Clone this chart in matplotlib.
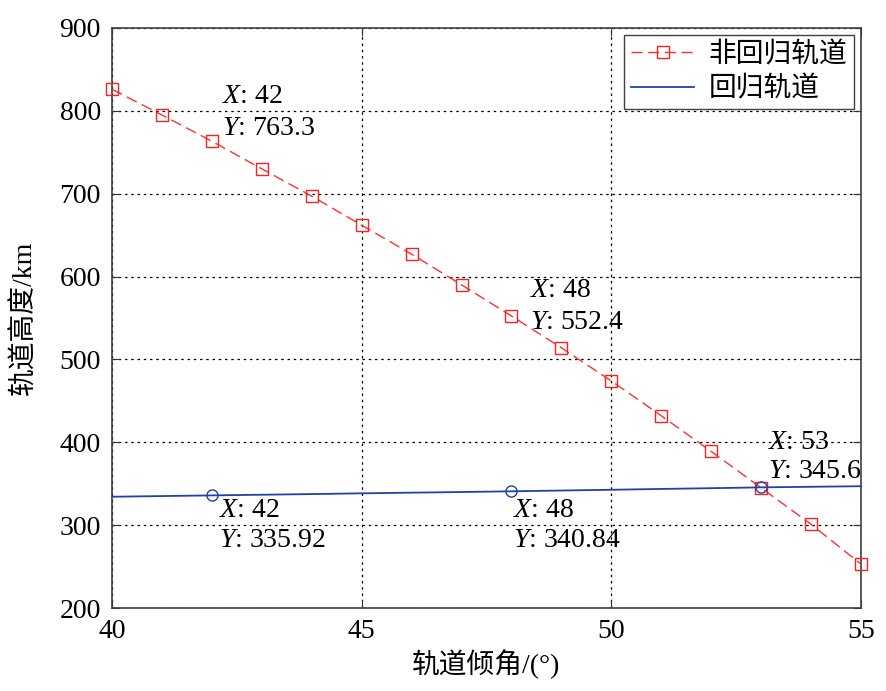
import matplotlib
matplotlib.use("Agg")
import matplotlib.pyplot as plt

plt.rcParams['font.family'] = ['Liberation Serif', 'Noto Sans CJK SC']
plt.rcParams['mathtext.fontset'] = 'custom'
plt.rcParams['mathtext.it'] = 'Liberation Serif:italic'
plt.rcParams['mathtext.rm'] = 'Liberation Serif'

# data
incl = [40, 41, 42, 43, 44, 45, 46, 47, 48, 49, 50, 51, 52, 53, 54, 55]
h_nonrep = [826, 795, 763.3, 730, 697, 662, 627, 590, 552.4, 514, 474, 432, 389, 345, 301, 253]
h_rep = [334.3, 335.1, 335.92, 336.7, 337.5, 338.4, 339.2, 340.0, 340.84, 341.8, 342.7, 343.7, 344.6, 345.6, 346.3, 347.0]
tip_rep_x = [42, 48, 53]
tip_rep_y = [335.92, 340.84, 345.6]
series_names = ['非回归轨道', '回归轨道']
xlabel = '轨道倾角/(°)'
ylabel = '轨道高度/km'
xticks = [40, 45, 50, 55]
yticks = [200, 300, 400, 500, 600, 700, 800, 900]

# datatip labels: (text_x, text_y_X, text_y_Y, x string, y string)
tips = [
    (42.2, 817, 779, '42', '763.3'),
    (48.37, 583, 545, '48', '552.4'),
    (53.14, 400, 365, '53', '345.6'),
    (42.15, 318, 281, '42', '335.92'),
    (48.03, 318, 281, '48', '340.84'),
]

fig = plt.figure(figsize=(8.87, 6.91), dpi=100)
ax = fig.add_axes([0.1263, 0.1201, 0.9707 - 0.1263, 0.9595 - 0.1201])

ax.plot(incl, h_nonrep, color='#ff3030', linestyle=(0, (8, 4)), linewidth=1.0,
        marker='s', markersize=8, markerfacecolor='none', markeredgecolor='#ff2020',
        markeredgewidth=1.0, label=series_names[0], clip_on=False, zorder=4)
ax.plot(incl, h_rep, color='#2040b0', linestyle='-', linewidth=1.3,
        label=series_names[1], clip_on=False, zorder=4)
ax.plot(tip_rep_x, tip_rep_y, linestyle='none', marker='o', markersize=8,
        markerfacecolor='none', markeredgecolor='#2040b0', markeredgewidth=1.0, zorder=5,
        clip_on=False)

for (tx, ty1, ty2, xs, ys) in tips:
    ax.text(tx, ty1, r'$X$: ' + xs, fontsize=20, ha='left', va='center', zorder=6)
    ax.text(tx, ty2, r'$Y$: ' + ys, fontsize=20, ha='left', va='center', zorder=6)

ax.set_xlim(40, 55)
ax.set_ylim(200, 900)
ax.set_xticks(xticks)
ax.set_yticks(yticks)
ax.tick_params(direction='in', top=True, right=True, labelsize=20, length=6,
               color='#333333', pad=8)
for s in ax.spines.values():
    s.set_color('#404040')
    s.set_linewidth(1.2)
ax.grid(True, color='black', linestyle=(0, (2, 3)), linewidth=0.9)
ax.set_axisbelow(True)

ax.set_xlabel(xlabel, fontsize=20, labelpad=4)
ax.set_ylabel(ylabel, fontsize=20, labelpad=16)

leg = ax.legend(loc='upper right', fontsize=20, frameon=True, fancybox=False,
                edgecolor='#404040', framealpha=1, borderpad=0.25, handlelength=2.3,
                labelspacing=0.3, borderaxespad=0.25, handletextpad=0.5)
leg.get_frame().set_linewidth(1.0)

fig.savefig('out.png', dpi=100)
